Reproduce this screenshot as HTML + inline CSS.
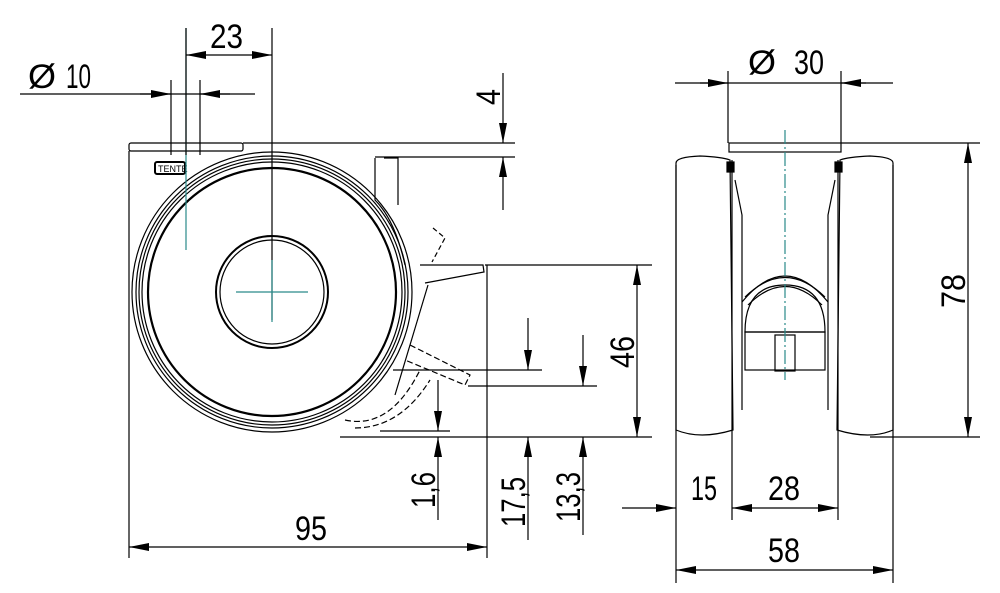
<!DOCTYPE html>
<html><head><style>
html,body{margin:0;padding:0;background:#fff;}
svg{display:block;}
text{font-family:"Liberation Sans",sans-serif;font-size:34px;fill:#000;}
</style></head><body>
<svg width="1000" height="593" viewBox="0 0 1000 593" xmlns="http://www.w3.org/2000/svg">
<defs>
<marker id="a" viewBox="0 0 20 8" refX="20" refY="4" markerWidth="20" markerHeight="8" markerUnits="userSpaceOnUse" orient="auto-start-reverse"><path d="M0,0 L20,4 L0,8 z" fill="#000"/></marker>
</defs>
<g stroke="#000" stroke-width="1.2" fill="none">
<rect x="129" y="143" width="114" height="8" rx="2"/>
<line x1="129" y1="151" x2="129" y2="558"/>
<line x1="243" y1="143" x2="515" y2="143"/>
<rect x="155" y="162" width="30" height="12" rx="2" stroke-width="2"/>
<text x="158" y="172" style="font-size:9px;" stroke="none">TENTE</text>
<circle cx="272" cy="292" r="140"/>
<circle cx="272" cy="292" r="136"/>
<circle cx="272" cy="292" r="133"/>
<circle cx="272" cy="292" r="130"/>
<circle cx="272" cy="292" r="124" stroke-width="2.2"/>
<circle cx="272" cy="292" r="56" stroke-width="2"/>
<circle cx="272" cy="292" r="52"/>
<path d="M375,158 L375,200 Q395,220 405,265"/>
<path d="M384,158 L398,158 L398,205"/>
<line x1="375" y1="157" x2="515" y2="157"/>
<path d="M420,265 L483,265 L484,272 L425,283"/>
<path d="M428,285 L395,395"/>
<path d="M433,228 L445,238 L432,262" stroke-dasharray="5,3"/>
<path d="M410,345 L470,375 L465,385 L405,360" stroke-dasharray="6,3"/>
<path d="M345,420 Q390,430 420,370" stroke-dasharray="6,3"/>
<path d="M355,428 Q400,428 430,380" stroke-dasharray="6,3"/>
<line x1="487" y1="265" x2="487" y2="558"/>
<line x1="186" y1="28" x2="186" y2="250" stroke="#2a8a8a"/>
<line x1="186" y1="28" x2="186" y2="155"/>
<line x1="272" y1="28" x2="272" y2="320"/>
<line x1="236" y1="292" x2="308" y2="292" stroke="#2a8a8a"/>
<line x1="272" y1="260" x2="272" y2="322" stroke="#2a8a8a"/>
<line x1="186" y1="55" x2="272" y2="55" marker-start="url(#a)" marker-end="url(#a)"/>
<line x1="171" y1="80" x2="171" y2="155"/>
<line x1="200" y1="80" x2="200" y2="155"/>
<line x1="20" y1="94" x2="255" y2="94"/>
<line x1="140" y1="94" x2="171" y2="94" marker-end="url(#a)"/>
<line x1="230" y1="94" x2="200" y2="94" marker-end="url(#a)"/>
<line x1="503" y1="73" x2="503" y2="143" marker-end="url(#a)"/>
<line x1="503" y1="210" x2="503" y2="157" marker-end="url(#a)"/>
<line x1="485" y1="265" x2="652" y2="265"/>
<line x1="340" y1="437" x2="652" y2="437"/>
<line x1="637" y1="265" x2="637" y2="437" marker-start="url(#a)" marker-end="url(#a)"/>
<line x1="393" y1="370" x2="542" y2="370"/>
<line x1="468" y1="386" x2="597" y2="386"/>
<line x1="380" y1="431" x2="450" y2="431"/>
<line x1="528" y1="318" x2="528" y2="370" marker-end="url(#a)"/>
<line x1="528" y1="540" x2="528" y2="437" marker-end="url(#a)"/>
<line x1="583" y1="335" x2="583" y2="386" marker-end="url(#a)"/>
<line x1="583" y1="535" x2="583" y2="437" marker-end="url(#a)"/>
<line x1="438" y1="380" x2="438" y2="431" marker-end="url(#a)"/>
<line x1="438" y1="520" x2="438" y2="437" marker-end="url(#a)"/>
<line x1="129" y1="547" x2="487" y2="547" marker-start="url(#a)" marker-end="url(#a)"/>
<rect x="729" y="143" width="112" height="9"/>
<line x1="841" y1="143" x2="980" y2="143"/>
<path d="M676,163 Q676,157 700,156 Q722,157 730,160 L733,430 Q700,440 676,430 Z"/>
<line x1="676" y1="165" x2="676" y2="583"/>
<path d="M893,163 Q893,157 870,156 Q848,157 840,160 L837,430 Q870,440 893,430 Z"/>
<line x1="893" y1="165" x2="893" y2="583"/>
<line x1="732" y1="160" x2="732" y2="520"/>
<line x1="838" y1="160" x2="838" y2="520"/>
<path d="M735,180 L742,215 L742,410"/>
<path d="M835,180 L828,215 L828,410"/>
<path d="M742,302 Q785,250 828,302"/>
<path d="M745,297 Q785,258 825,297"/>
<path d="M748,305 Q785,268 822,305"/>
<path d="M745,332 Q745,285 785,285 Q825,285 825,332 Z"/>
<rect x="745" y="332" width="80" height="38"/>
<rect x="775" y="335" width="20" height="36"/>
<rect x="727" y="162" width="7" height="10" fill="#000"/>
<rect x="835" y="162" width="7" height="10" fill="#000"/>
<line x1="785" y1="130" x2="785" y2="380" stroke="#2a8a8a" stroke-dasharray="14,3,2,3"/>
<line x1="728" y1="71" x2="728" y2="143"/>
<line x1="841" y1="71" x2="841" y2="143"/>
<line x1="675" y1="83" x2="893" y2="83"/>
<line x1="700" y1="83" x2="728" y2="83" marker-end="url(#a)"/>
<line x1="866" y1="83" x2="841" y2="83" marker-end="url(#a)"/>
<line x1="870" y1="437" x2="980" y2="437"/>
<line x1="968" y1="143" x2="968" y2="437" marker-start="url(#a)" marker-end="url(#a)"/>
<line x1="622" y1="508" x2="676" y2="508" marker-end="url(#a)"/>
<line x1="732" y1="508" x2="838" y2="508" marker-start="url(#a)" marker-end="url(#a)"/>
<line x1="676" y1="570" x2="893" y2="570" marker-start="url(#a)" marker-end="url(#a)"/>
</g>
<g>
<text x="210" y="48" textLength="33" lengthAdjust="spacingAndGlyphs">23</text>
<text x="28" y="88" textLength="28" lengthAdjust="spacingAndGlyphs">Ø</text><text x="66" y="88" textLength="25" lengthAdjust="spacingAndGlyphs">10</text>
<text x="295" y="540" textLength="32" lengthAdjust="spacingAndGlyphs">95</text>
<text transform="translate(500,105) rotate(-90)" textLength="16" lengthAdjust="spacingAndGlyphs">4</text>
<text transform="translate(634,368) rotate(-90)" textLength="32" lengthAdjust="spacingAndGlyphs">46</text>
<text transform="translate(435,508) rotate(-90)" textLength="36" lengthAdjust="spacingAndGlyphs">1,6</text>
<text transform="translate(525,527) rotate(-90)" textLength="50" lengthAdjust="spacingAndGlyphs">17,5</text>
<text transform="translate(580,522) rotate(-90)" textLength="50" lengthAdjust="spacingAndGlyphs">13,3</text>
<text x="748" y="74" textLength="28" lengthAdjust="spacingAndGlyphs">Ø</text><text x="794" y="74" textLength="30" lengthAdjust="spacingAndGlyphs">30</text>
<text transform="translate(965,308) rotate(-90)" textLength="34" lengthAdjust="spacingAndGlyphs">78</text>
<text x="691" y="500" textLength="26" lengthAdjust="spacingAndGlyphs">15</text>
<text x="768" y="500" textLength="32" lengthAdjust="spacingAndGlyphs">28</text>
<text x="768" y="562" textLength="32" lengthAdjust="spacingAndGlyphs">58</text>
</g>
</svg>
</body></html>
